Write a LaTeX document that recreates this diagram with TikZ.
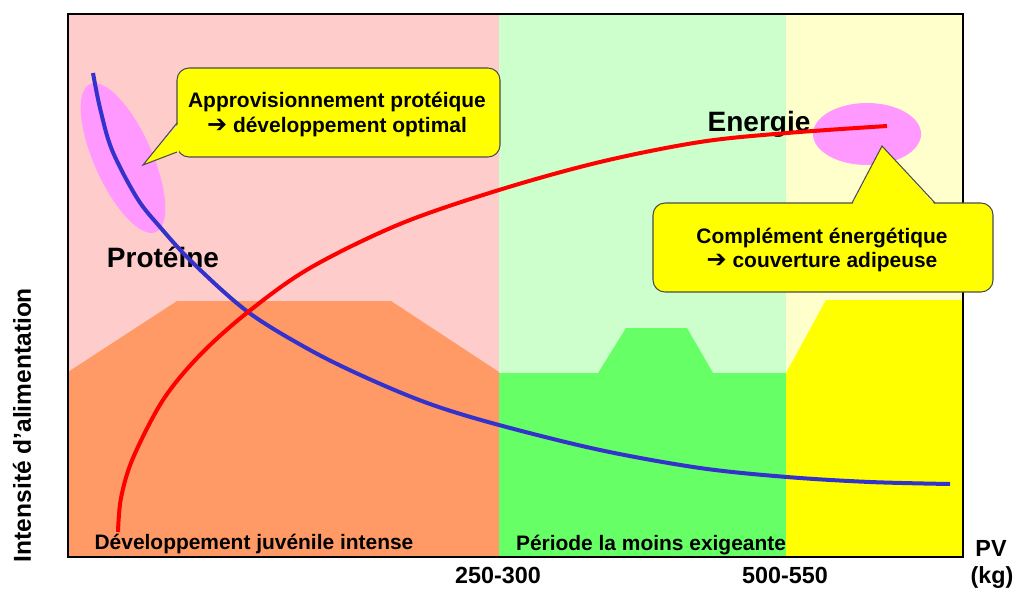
\documentclass[tikz,border=0pt]{standalone}
\usepackage{fontspec}
\setmainfont{Liberation Sans}
\newfontfamily\arrowfont{DejaVu Sans}
\usepackage{xcolor}
\usepackage{tikz}

\definecolor{pinkbg}{HTML}{FFCCCC}
\definecolor{greenbg}{HTML}{CCFFCC}
\definecolor{yellowbg}{HTML}{FFFFCC}
\definecolor{orangeband}{HTML}{FF9966}
\definecolor{greenband}{HTML}{66FF66}
\definecolor{yellowband}{HTML}{FFFF00}
\definecolor{blob}{HTML}{FF99FF}
\definecolor{protblue}{HTML}{3333CC}
\definecolor{enerred}{HTML}{FF0000}

\newcommand{\bigarrow}{{\arrowfont\bfseries\fontsize{18}{18}\selectfont ➔}}

\begin{document}
\begin{tikzpicture}[x=0.75pt,y=-0.75pt,
 bubble/.style={draw=black!70, line width=0.8pt, fill=yellowband, rounded corners=9pt},
 tail/.style={draw=black!70, line width=0.8pt},
 lbl/.style={font=\bfseries\fontsize{15.7}{18}\selectfont, inner sep=0pt, anchor=base},
 axlbl/.style={font=\bfseries\fontsize{17.5}{21}\selectfont, inner sep=0pt, anchor=base},
 biglbl/.style={font=\bfseries\fontsize{21}{25}\selectfont, inner sep=0pt, anchor=base},
 curve/.style={line width=3pt, line cap=butt}]

\useasboundingbox (0,0) rectangle (1016,592);

\begin{scope} %periods
 \def\l{68}
 \def\a{499}
 \def\b{786}
 \def\r{963}
 \def\t{14}
 \def\bt{557}
 \fill[pinkbg] (\l,\t) rectangle (\a,\bt);
 \fill[greenbg] (\a,\t) rectangle (\b,\bt);
 \fill[yellowbg] (\b,\t) rectangle (\r,\bt);
 % feeding bands
 \fill[orangeband] (\l,\bt) -- (\l,372) -- (177,301) -- (391,301) -- (\a,372) -- (\a,\bt) -- cycle;
 \fill[greenband] (\a,\bt) -- (\a,373) -- (598,373) -- (626,328) -- (687,328) -- (713,373)
   -- (\b,373) -- (\b,\bt) -- cycle;
 \fill[yellowband] (\b,\bt) -- (\b,373) -- (826,300) -- (\r,300) -- (\r,\bt) -- cycle;
 \draw[line width=1.5pt] (\l,\t) rectangle (\r,\bt);
\end{scope}

\begin{scope} %blobs
 \fill[blob] (123,158) ellipse[x radius=81, y radius=29, rotate=-66];
 \fill[blob] (867,134) ellipse[x radius=54, y radius=31];
\end{scope}

\node[biglbl] (prot) at (163,267) {Protéine};
\node[biglbl] (ener) at (759,131) {Energie};

\draw[curve, protblue] plot[smooth, tension=0.55] coordinates {(93,73) (100,108) (112,150) (137,198)
 (160,227) (193,263) (248,312) (310,350) (367,378) (430,404) (499,425) (600,450) (700,468)
 (787,477) (870,482) (950,484)};
\draw[curve, enerred] plot[smooth, tension=0.55] coordinates {(118,532) (121,498) (133,458) (163,400)
 (200,355) (248,312) (310,268) (400,224) (499,190) (600,162) (700,142) (787,133) (887,126)};

\begin{scope} %callouts
 \draw[bubble] (177,68) rectangle (500,157);
 \coordinate (tipA) at (143,165);
 \fill[yellowband] (179,123) -- (tipA) -- (179,152) -- cycle;
 \draw[tail] (177,123) -- (tipA) -- (177,152);
 \node[lbl] (appro) at (337,108) {Approvisionnement protéique};
 \node[lbl] (devopt) at (337,132) {\bigarrow{} développement optimal};

 \draw[bubble] (653,203) rectangle (993,292);
 \coordinate (tipB) at (882,146);
 \fill[yellowband] (852,205) -- (tipB) -- (935,205) -- cycle;
 \draw[tail] (852,203) -- (tipB) -- (935,203);
 \node[lbl] (compl) at (822,243) {Complément énergétique};
 \node[lbl] (couv) at (822,267) {\bigarrow{} couverture adipeuse};
\end{scope}

\node[lbl] (juv) at (254,549) {Développement juvénile intense};
\node[lbl] (moins) at (651,550) {Période la moins exigeante};

\node[axlbl] (p250) at (498,583) {250-300};
\node[axlbl] (p500) at (785,583) {500-550};
\node[axlbl] (pv) at (991,556) {PV};
\node[axlbl] (kg) at (992,583) {(kg)};
\node[axlbl, font=\bfseries\fontsize{18.4}{22}\selectfont, rotate=90] (intens) at (31,425) {Intensité d'alimentation};

\end{tikzpicture}
\end{document}
